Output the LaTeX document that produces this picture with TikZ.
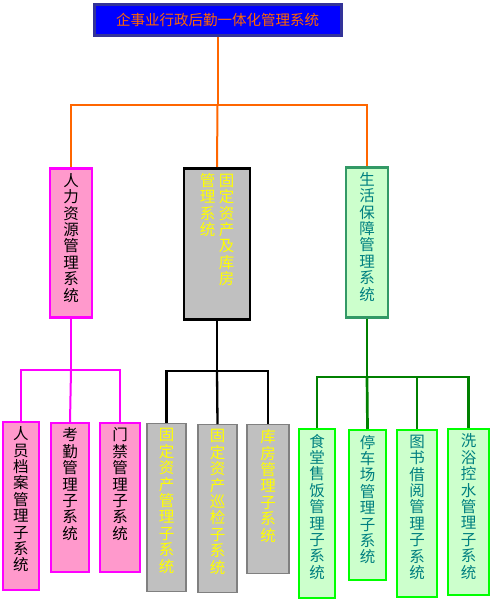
\documentclass[tikz,border=0pt]{standalone}
\usepackage{fontspec}
\setmainfont{Noto Sans CJK SC}
\usepackage{tikz}
\XeTeXlinebreaklocale "zh"
\XeTeXlinebreakskip = 0pt plus 1pt

\definecolor{titleblue}{RGB}{0,0,255}
\definecolor{titleedge}{RGB}{51,51,153}
\definecolor{orangeline}{RGB}{255,102,0}
\definecolor{pinkfill}{RGB}{255,153,204}
\definecolor{magentaline}{RGB}{255,0,255}
\definecolor{grayfill}{RGB}{192,192,192}
\definecolor{grayedge}{RGB}{128,128,128}
\definecolor{greenfill}{RGB}{204,255,204}
\definecolor{seagreen}{RGB}{51,153,102}
\definecolor{limeedge}{RGB}{0,255,0}
\definecolor{darkgreen}{RGB}{0,128,0}
\definecolor{tealtext}{RGB}{0,128,128}
\definecolor{yellowtext}{RGB}{255,255,0}

\newcommand\vcol[1]{\vtop{\hsize=18pt\parindent=0pt\centering #1\par}}
\newcommand\vt[2]{\vbox to #1{\vskip 5pt\hbox{#2}\vfil}}

\begin{document}
\begin{tikzpicture}[x=1pt,y=-1pt,
        every node/.style={inner sep=0pt,anchor=north,font=\fontsize{15.5pt}{16.4pt}\selectfont},
        topbox/.style={fill=titleblue,draw=titleedge,line width=3pt,text=orangeline,
            minimum width=247pt,minimum height=31pt,anchor=center,font=\fontsize{14.5pt}{16pt}\selectfont},
        hrbox/.style={fill=pinkfill,draw=magentaline,line width=2.5pt,text=black},
        hrsub/.style={fill=pinkfill,draw=magentaline,line width=1.6pt,text=black},
        assetbox/.style={fill=grayfill,draw=black,line width=2.5pt,text=yellowtext},
        assetsub/.style={fill=grayfill,draw=grayedge,line width=1.3pt,text=yellowtext},
        lifebox/.style={fill=greenfill,draw=seagreen,line width=2.5pt,text=tealtext},
        lifesub/.style={fill=greenfill,draw=limeedge,line width=1.8pt,text=tealtext},
        orangelink/.style={draw=orangeline,line width=2pt},
        hrlink/.style={draw=magentaline,line width=2pt},
        assetlink/.style={draw=black,line width=2.3pt},
        lifelink/.style={draw=darkgreen,line width=2.7pt}]

    \useasboundingbox (0,0) rectangle (493,602);

    % top
    \node[topbox] (sys) at (217.5,20) {企事业行政后勤一体化管理系统};

    % second level
    \node[hrbox,minimum width=42pt] (hr) at (71,167) {\vt{149pt}{\vcol{人力资源管理系统}}};
    \node[assetbox,minimum width=66pt] (asset) at (217,167)
        {\vt{151pt}{\vcol{管理系统}\hskip1pt\vcol{固定资产及库房}}};
    \node[lifebox,minimum width=42pt] (life) at (367,166) {\vt{150pt}{\vcol{生活保障管理系统}}};

    % third level
    \node[hrsub,minimum width=36pt] (dossier) at (21,421) {\vt{168pt}{\vcol{人员档案管理子系统}}};
    \node[hrsub,minimum width=38pt] (attend) at (70,422) {\vt{149pt}{\vcol{考勤管理子系统}}};
    \node[hrsub,minimum width=40pt] (door) at (120,422) {\vt{149pt}{\vcol{门禁管理子系统}}};

    \node[assetsub,minimum width=39pt] (fixed) at (166.5,423) {\vt{168pt}{\vcol{固定资产管理子系统}}};
    \node[assetsub,minimum width=39pt] (patrol) at (217.5,424) {\vt{168pt}{\vcol{固定资产巡检子系统}}};
    \node[assetsub,minimum width=42pt] (store) at (268,424) {\vt{149pt}{\vcol{库房管理子系统}}};

    \node[lifesub,minimum width=36pt] (canteen) at (317,428) {\vt{169pt}{\vcol{食堂售饭管理子系统}}};
    \node[lifesub,minimum width=37pt] (parking) at (367.5,429) {\vt{150pt}{\vcol{停车场管理子系统}}};
    \node[lifesub,minimum width=40pt] (library) at (417,429) {\vt{167pt}{\vcol{图书借阅管理子系统}}};
    \node[lifesub,minimum width=41pt] (bath) at (468.5,428) {\vt{166pt}{\vcol{洗浴控水管理子系统}}};

    % connectors
    \coordinate (sysbus) at (217.5,105);
    \coordinate (hrbus) at (71,370);
    \coordinate (assetbus) at (217,371);
    \coordinate (lifebus) at (367,377);

    \draw[orangelink] (sys.south) -- (sysbus) -| (hr.north);
    \draw[orangelink] (sysbus) -- (asset.north);
    \draw[orangelink] (sysbus) -| (life.north);

    \draw[hrlink] (hr.south) -- (hrbus) -| (dossier.north);
    \draw[hrlink] (hrbus) -- (attend.north);
    \draw[hrlink] (hrbus) -| (door.north);

    \draw[assetlink] (asset.south) -- (assetbus) -| (fixed.north);
    \draw[assetlink] (assetbus) -- (patrol.north);
    \draw[assetlink] (assetbus) -| (store.north);

    \draw[lifelink] (life.south) -- (lifebus) -| (canteen.north);
    \draw[lifelink] (lifebus) -- (parking.north);
    \draw[lifelink] (lifebus) -| (library.north);
    \draw[lifelink] (lifebus) -| (bath.north);
\end{tikzpicture}
\end{document}
